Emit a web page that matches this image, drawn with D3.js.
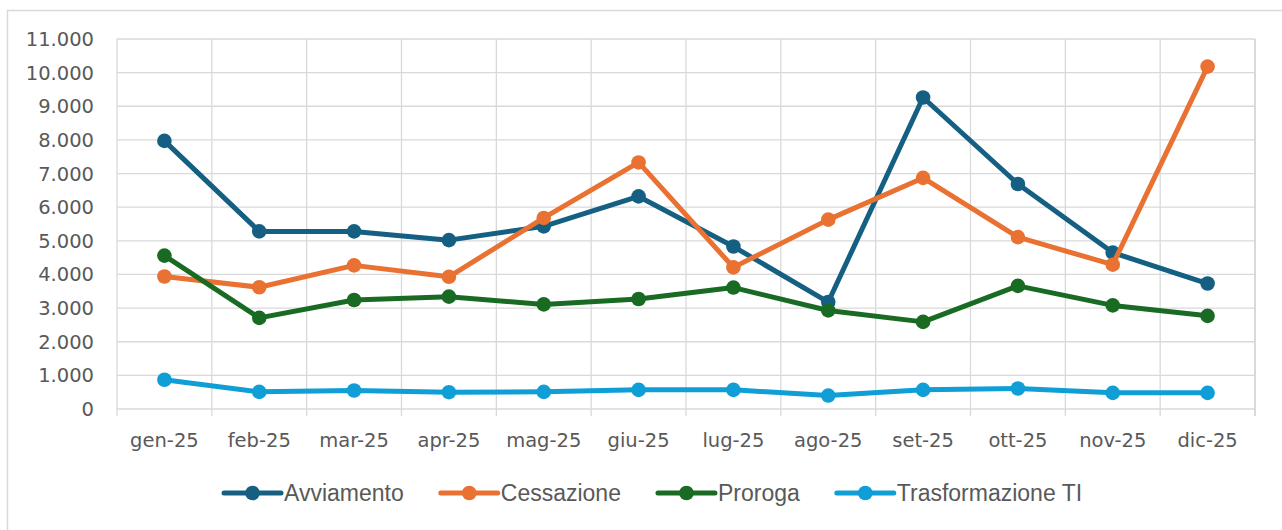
<!DOCTYPE html>
<html>
<head>
<meta charset="utf-8">
<script src="https://cdn.jsdelivr.net/npm/d3@7"></script>
<style>
  html, body { margin: 0; padding: 0; background: #fff; }
  svg { display: block; }
</style>
</head>
<body>
<div id="chart"></div>
<script>
const months = ['gen-25', 'feb-25', 'mar-25', 'apr-25', 'mag-25', 'giu-25',
  'lug-25', 'ago-25', 'set-25', 'ott-25', 'nov-25', 'dic-25'];

const avviamento = [7970, 5280, 5280, 5020, 5430, 6320, 4830, 3180, 9260, 6690, 4650, 3730];
const cessazione = [3940, 3620, 4270, 3930, 5680, 7330, 4210, 5630, 6870, 5110, 4290, 10180];
const proroga = [4560, 2710, 3240, 3340, 3110, 3270, 3610, 2930, 2590, 3660, 3080, 2770];
const trasformazione = [870, 510, 550, 500, 510, 570, 570, 400, 570, 610, 480, 480];

const seriesNames = ['Avviamento', 'Cessazione', 'Proroga', 'Trasformazione TI'];
const yTicks = [0, 1000, 2000, 3000, 4000, 5000, 6000, 7000, 8000, 9000, 10000, 11000];

const width = 1282, height = 530;
const margin = { top: 39, right: 27, bottom: 121, left: 117 };
const innerWidth = width - margin.left - margin.right;
const innerHeight = height - margin.top - margin.bottom;

const colors = ['#156082', '#E97132', '#196B24', '#0F9ED5'];
const seriesData = [avviamento, cessazione, proroga, trasformazione];
const series = seriesNames.map((name, i) => ({ name, color: colors[i], values: seriesData[i] }));

const gridColor = '#d9d9d9';
const textColor = '#595959';

const svg = d3.select('#chart')
  .append('svg')
    .attr('width', width)
    .attr('height', height);

// outer chart frame: only the left and top edges are visible in the crop
svg.append('path')
  .attr('d', `M7.5,${height} V10.5 H${width}`)
  .attr('fill', 'none')
  .attr('stroke', gridColor)
  .attr('stroke-width', 1.5);

const g = svg.append('g')
  .attr('transform', `translate(${margin.left}, ${margin.top})`);

const xBand = d3.scaleBand()
  .domain(months)
  .range([0, innerWidth]);

const yScale = d3.scaleLinear()
  .domain([0, 11000])
  .range([innerHeight, 0]);

// horizontal gridlines
g.append('g')
  .selectAll('line')
  .data(yTicks)
  .join('line')
    .attr('x1', 0)
    .attr('x2', innerWidth)
    .attr('y1', d => yScale(d))
    .attr('y2', d => yScale(d))
    .attr('stroke', gridColor)
    .attr('stroke-width', 1.3);

// vertical gridlines at category boundaries, with tick below the axis
const boundaries = months.map(m => xBand(m)).concat([innerWidth]);
g.append('g')
  .selectAll('line')
  .data(boundaries)
  .join('line')
    .attr('x1', d => d)
    .attr('x2', d => d)
    .attr('y1', 0)
    .attr('y2', innerHeight + 7)
    .attr('stroke', gridColor)
    .attr('stroke-width', (d, i) => i === boundaries.length - 1 ? 2 : 1.3);

// y labels
g.append('g')
  .selectAll('text')
  .data(yTicks)
  .join('text')
    .text(d => d3.format(',')(d).replace(/,/g, '.'))
    .attr('x', -23)
    .attr('y', d => yScale(d) + 7)
    .attr('text-anchor', 'end')
    .attr('fill', textColor)
    .style('font-family', '"DejaVu Sans", sans-serif')
    .style('font-size', '19.5px');

// x labels
g.append('g')
  .selectAll('text')
  .data(months)
  .join('text')
    .text(d => d)
    .attr('x', d => xBand(d) + xBand.bandwidth() / 2)
    .attr('y', innerHeight + 38)
    .attr('text-anchor', 'middle')
    .attr('fill', textColor)
    .style('font-family', '"DejaVu Sans", sans-serif')
    .style('font-size', '19.5px');

const xCenter = (d, i) => xBand(months[i]) + xBand.bandwidth() / 2;

const lineGenerator = d3.line()
  .x(xCenter)
  .y(d => yScale(d));

series.forEach(s => {
  const sg = g.append('g');
  sg.append('path')
    .datum(s.values)
    .attr('d', lineGenerator)
    .attr('fill', 'none')
    .attr('stroke', s.color)
    .attr('stroke-width', 5)
    .attr('stroke-linejoin', 'round');
  sg.selectAll('circle')
    .data(s.values)
    .join('circle')
      .attr('cx', xCenter)
      .attr('cy', d => yScale(d))
      .attr('r', 7.3)
      .attr('fill', s.color);
});

// legend
const legend = svg.append('g')
  .attr('transform', 'translate(224, 493)');

let offset = 0;
series.forEach(s => {
  const item = legend.append('g')
    .attr('transform', `translate(${offset}, 0)`);
  item.append('line')
    .attr('x1', 0)
    .attr('x2', 57)
    .attr('y1', 0)
    .attr('y2', 0)
    .attr('stroke', s.color)
    .attr('stroke-width', 5)
    .attr('stroke-linecap', 'round');
  item.append('circle')
    .attr('cx', 28.5)
    .attr('cy', 0)
    .attr('r', 7.3)
    .attr('fill', s.color);
  const label = item.append('text')
    .text(s.name)
    .attr('x', 60)
    .attr('y', 8)
    .attr('fill', textColor)
    .style('font-family', '"Liberation Sans", Arial, sans-serif')
    .style('font-size', '23px');
  offset += 60 + label.node().getComputedTextLength() + 37;
});
</script>
</body>
</html>
